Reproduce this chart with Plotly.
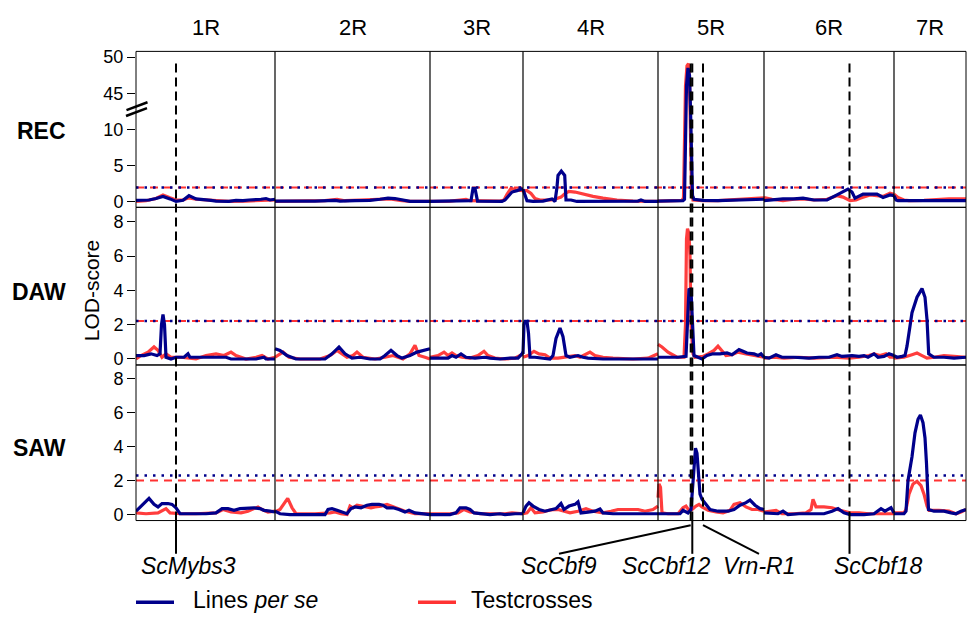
import plotly.graph_objects as go

W, H = 968, 620
FONT = "Liberation Sans, Arial, Helvetica, sans-serif"
BLUE = "#00008B"
RED = "#FF3333"

chromosomes = ["1R", "2R", "3R", "4R", "5R", "6R", "7R"]
chrom_length = [139, 155, 93, 135, 106, 130, 72]
traits = ["REC", "DAW", "SAW"]

# (cM within chromosome, LOD) per chromosome
rec_lines = {
    "1R": [(0,0.15),(13,0.2),(20,0.4),(27,0.7),(34,0.35),(40,0.0),(47,0.15),(53,0.8),(60,0.35),(67,0.3),(75,0.15),(80,0.05),(93,0.0),(100,0.15),(107,0.1),(113,0.2),(120,0.2),(125,0.3),(130,0.4),(134,0.2),(139,0.3)],
    "2R": [(0,0.05),(20,0.0),(40,0.05),(60,0.15),(65,0.05),(80,0.1),(95,0.15),(105,0.3),(113,0.45),(120,0.4),(128,0.15),(135,0.0),(155,0.0)],
    "3R": [(0,0.0),(20,0.0),(35,0.05),(41,0.1),(43,1.8),(45,1.8),(47.5,0.05),(60,0.0),(72,0.0),(75,0.2),(79,0.9),(82,1.3),(87,1.5),(93,1.8)],
    "4R": [(0,1.7),(2,0.8),(4,0.1),(10,0.0),(20,0.05),(29,0.35),(32,0.0),(34,2.0),(35,3.6),(38.3,4.2),(41.7,3.6),(43,0.2),(48,0.2),(54,0.0),(80,0.0),(100,0.0),(115,0.05),(118,0.2),(122,0.0),(135,0.0)],
    "5R": [(0,0.05),(10,0.05),(20,0.05),(25,0.1),(26.5,0.3),(27.5,20),(28.5,46),(30,48.5),(31.5,47.5),(32.5,30),(33.5,5),(34.5,0.8),(36,0.3),(45,0.15),(60,0.1),(75,0.15),(88,0.2),(95,0.25),(100,0.3),(106,0.3)],
    "6R": [(0,0.1),(10,0.25),(19,0.35),(30,0.35),(39,0.45),(50,0.2),(63,0.2),(73,0.9),(84,1.7),(88,1.3),(91,0.45),(96,0.8),(99,1.0),(106,1.0),(113,1.0),(119,0.55),(126,0.9),(130,0.8)],
    "7R": [(0,0.8),(2,0.2),(4,0.1),(15,0.1),(30,0.05),(45,0.1),(60,0.15),(72,0.1)],
}
rec_test = {
    "1R": [(0,0.0),(10,0.1),(20,0.4),(27,0.9),(34,0.5),(40,0.2),(47,0.2),(53,0.5),(60,0.3),(70,0.2),(80,0.1),(93,0.0),(110,0.05),(125,0.1),(139,0.2)],
    "2R": [(0,0.0),(25,0.05),(50,0.1),(62,0.3),(70,0.1),(85,0.2),(100,0.3),(115,0.35),(125,0.15),(135,0.0),(155,0.0)],
    "3R": [(0,0.0),(20,0.05),(30,0.2),(36,0.3),(40,0.1),(50,0.05),(70,0.05),(74,0.2),(77,1.0),(81,1.8),(86,1.6),(93,1.5)],
    "4R": [(0,1.5),(4,1.5),(8,1.1),(12,0.4),(17,0.2),(28,0.2),(34,0.4),(38,0.6),(42,1.1),(46,1.4),(52,1.3),(60,1.0),(70,0.7),(80,0.45),(94,0.2),(110,0.05),(135,0.0)],
    "5R": [(0,0.05),(15,0.1),(24,0.15),(25.5,0.5),(26.5,10),(27.5,46),(29,48.8),(30.5,49.1),(31.5,47),(32.5,20),(33.5,2),(35,0.2),(45,0.1),(60,0.1),(75,0.2),(90,0.3),(100,0.4),(106,0.5)],
    "6R": [(0,0.55),(8,0.3),(19,0.1),(30,0.3),(39,0.35),(50,0.2),(63,0.3),(73,0.8),(79,0.6),(86,0.1),(92,0.2),(96,0.45),(106,0.9),(113,0.8),(119,0.7),(126,1.15),(130,1.0)],
    "7R": [(0,1.0),(4,0.55),(10,0.2),(15,0.1),(30,0.15),(45,0.3),(55,0.35),(65,0.35),(72,0.35)],
}
daw_lines = {
    "1R": [(0,0.2),(8,0.2),(15,0.3),(21,0.2),(24,0.3),(25.5,2.0),(27,2.6),(28.5,2.0),(30,0.1),(35,0.0),(40,0.1),(48,0.1),(52,0.3),(54,0.1),(70,0.1),(90,0.1),(95,0.0),(110,0.0),(120,0.0),(128,0.1),(130,0.0),(139,0.0)],
    "2R": [(0,0.6),(5,0.5),(12,0.2),(21,0.0),(35,0.0),(50,0.0),(57,0.3),(64,0.7),(70,0.3),(77,0.05),(85,0.1),(95,0.0),(105,0.0),(110,0.2),(116,0.5),(122,0.2),(127,0.05),(135,0.2),(142,0.4),(150,0.55),(155,0.6)],
    "3R": [(0,0.05),(10,0.05),(18,0.05),(22,0.2),(26,0.1),(31,0.3),(36,0.1),(45,0.05),(55,0.1),(60,0.05),(70,0.0),(80,0.05),(88,0.05),(92,0.3),(93,0.4)],
    "4R": [(0,0.3),(1,2.0),(2,2.2),(4,2.2),(5.5,1.5),(7,0.1),(12,0.1),(20,0.05),(27,0.0),(30,0.2),(33,1.2),(37,1.8),(40,1.3),(43,0.2),(47,0.1),(55,0.2),(60,0.1),(65,0.05),(80,0.0),(100,0.0),(120,0.0),(135,0.0)],
    "5R": [(0,0.1),(10,0.1),(20,0.1),(28,0.15),(30,3.0),(31,4.1),(33,4.0),(34.5,2.0),(36,0.2),(40,0.1),(44,0.0),(49,0.2),(55,0.3),(62,0.3),(69,0.35),(74,0.25),(78,0.45),(81,0.55),(85,0.45),(89,0.35),(96,0.3),(100,0.2),(103,0.3),(106,0.1)],
    "6R": [(0,0.1),(5,0.05),(12,0.25),(18,0.1),(30,0.1),(45,0.05),(55,0.1),(65,0.1),(73,0.25),(78,0.15),(88,0.2),(95,0.15),(100,0.2),(104,0.1),(110,0.3),(114,0.1),(120,0.15),(125,0.3),(130,0.2)],
    "7R": [(0,0.2),(3,0.1),(8,0.15),(11,0.2),(13,0.75),(18,2.7),(23,3.6),(28,4.1),(31,3.6),(33,2.3),(34.7,0.3),(40,0.1),(50,0.1),(60,0.05),(72,0.1)],
}
daw_test = {
    "1R": [(0,0.0),(5,0.2),(12,0.4),(18,0.7),(22,0.5),(26,0.1),(30,0.3),(35,0.1),(45,0.1),(60,0.0),(70,0.2),(80,0.3),(88,0.2),(95,0.4),(100,0.2),(110,0.0),(120,0.1),(126,0.2),(132,0.0),(139,0.1)],
    "2R": [(0,0.1),(8,0.4),(14,0.1),(25,0.0),(45,0.0),(55,0.2),(62,0.5),(67,0.3),(72,0.1),(78,0.2),(82,0.4),(88,0.1),(100,0.0),(110,0.1),(118,0.2),(128,0.0),(135,0.3),(140,0.8),(144,0.2),(150,0.1),(155,0.0)],
    "3R": [(0,0.1),(8,0.2),(14,0.4),(18,0.2),(22,0.35),(26,0.2),(32,0.1),(40,0.05),(48,0.2),(54,0.45),(58,0.2),(65,0.05),(75,0.0),(85,0.05),(93,0.3)],
    "4R": [(0,0.1),(5,0.2),(11,0.45),(16,0.3),(22,0.25),(27,0.05),(35,0.05),(43,0.1),(52,0.2),(57,0.1),(62,0.25),(67,0.4),(72,0.2),(80,0.1),(90,0.05),(110,0.0),(125,0.05),(135,0.3)],
    "5R": [(0,0.85),(4,0.7),(10,0.4),(16,0.2),(19,0.1),(26,0.1),(27.5,2.0),(28.5,7.0),(29.5,7.6),(31,7.3),(32,6.0),(33,2.0),(35,0.3),(37,0.1),(45,0.15),(50,0.3),(56,0.5),(60,0.75),(64,0.5),(68,0.2),(74,0.25),(80,0.4),(88,0.3),(96,0.2),(106,0.1)],
    "6R": [(0,0.05),(10,0.1),(20,0.05),(35,0.1),(50,0.05),(70,0.1),(85,0.05),(95,0.1),(105,0.2),(110,0.3),(116,0.2),(122,0.3),(126,0.1),(130,0.1)],
    "7R": [(0,0.05),(10,0.1),(18,0.25),(23,0.35),(28,0.2),(33,0.05),(40,0.1),(50,0.2),(60,0.15),(72,0.1)],
}
saw_lines = {
    "1R": [(0,0.2),(7,0.6),(13,0.95),(18,0.6),(22,0.45),(26,0.65),(32,0.65),(36,0.6),(40,0.4),(44,0.05),(55,0.05),(70,0.05),(80,0.1),(86,0.35),(92,0.35),(98,0.25),(104,0.35),(112,0.4),(118,0.4),(124,0.35),(128,0.25),(134,0.2),(139,0.15)],
    "2R": [(0,0.2),(5,0.05),(15,0.0),(30,0.0),(50,0.0),(53,0.3),(57,0.35),(62,0.25),(68,0.1),(72,0.05),(76,0.35),(80,0.45),(86,0.4),(92,0.55),(97,0.6),(104,0.6),(108,0.55),(112,0.4),(118,0.4),(124,0.3),(130,0.15),(134,0.25),(140,0.1),(146,0.05),(155,0.0)],
    "3R": [(0,0.0),(20,0.0),(26,0.1),(30,0.4),(36,0.4),(40,0.3),(44,0.1),(50,0.05),(60,0.0),(70,0.05),(75,0.0),(85,0.05),(93,0.05)],
    "4R": [(0,0.1),(3,0.5),(6,0.7),(10,0.5),(16,0.3),(22,0.2),(27,0.27),(33,0.35),(38,0.65),(41,0.3),(46,0.5),(52,0.6),(55,0.75),(58,0.1),(65,0.15),(72,0.2),(77,0.33),(80,0.1),(90,0.05),(100,0.05),(110,0.05),(120,0.05),(135,0.05)],
    "5R": [(0,0.05),(10,0.05),(22,0.05),(25,0.25),(30,0.1),(33,0.3),(35.5,2.5),(37.5,3.9),(39,3.6),(40.5,2.5),(42,1.2),(44,0.9),(47,0.7),(52,0.3),(60,0.2),(70,0.2),(76,0.3),(82,0.55),(88,0.7),(92,0.85),(97,0.55),(102,0.35),(106,0.3)],
    "6R": [(0,0.1),(8,0.05),(14,0.05),(19,0.2),(24,0.0),(35,0.05),(50,0.05),(60,0.05),(68,0.2),(74,0.35),(80,0.1),(86,0.0),(100,0.0),(110,0.05),(117,0.35),(121,0.2),(124,0.3),(127,0.4),(130,0.1)],
    "7R": [(0,0.05),(10,0.05),(12,0.2),(14,2.0),(18,3.4),(21,4.8),(24,5.6),(26.4,5.85),(29,5.4),(31,4.5),(32.5,3.0),(34.5,0.3),(40,0.2),(50,0.2),(57,0.1),(62,0.05),(67,0.2),(72,0.3)],
}
saw_test = {
    "1R": [(0,0.1),(10,0.05),(22,0.1),(30,0.35),(34,0.1),(45,0.05),(60,0.05),(80,0.1),(87,0.3),(95,0.15),(105,0.1),(112,0.2),(118,0.35),(122,0.45),(126,0.3),(132,0.15),(139,0.2)],
    "2R": [(0,0.15),(5,0.3),(12.7,0.95),(17,0.4),(21,0.05),(40,0.05),(55,0.1),(60,0.15),(66,0.05),(72,0.0),(75,0.5),(78,0.4),(82,0.55),(90,0.45),(96,0.4),(100,0.45),(106,0.5),(112,0.6),(118,0.45),(124,0.3),(130,0.2),(140,0.05),(155,0.05)],
    "3R": [(0,0.05),(20,0.05),(28,0.1),(34,0.3),(40,0.15),(50,0.05),(65,0.05),(75,0.05),(82,0.1),(88,0.05),(93,0.05)],
    "4R": [(0,0.05),(4,0.1),(8,0.4),(12,0.1),(20,0.15),(27,0.27),(35,0.3),(40,0.2),(47,0.1),(55,0.2),(63,0.35),(70,0.2),(80,0.1),(88,0.2),(95,0.3),(105,0.3),(115,0.3),(122,0.2),(130,0.3),(135,0.5)],
    "5R": [(0,1.0),(1,1.8),(2.5,1.6),(4,0.1),(10,0.05),(20,0.05),(25,0.4),(28,0.5),(31,0.25),(34,0.3),(38,0.5),(41,0.6),(44,0.45),(50,0.25),(58,0.15),(65,0.1),(72,0.25),(76,0.6),(82,0.7),(88,0.45),(94,0.3),(100,0.3),(106,0.2)],
    "6R": [(0,0.15),(6,0.2),(12,0.25),(18,0.05),(30,0.05),(42,0.1),(47,0.3),(49,0.9),(52,0.45),(60,0.45),(68,0.4),(76,0.25),(86,0.1),(95,0.1),(105,0.05),(115,0.05),(125,0.05),(130,0.05)],
    "7R": [(0,0.1),(10,0.1),(12,0.3),(15,1.2),(19,1.8),(23,1.95),(27,1.7),(30,1.2),(33,0.5),(35,0.25),(45,0.25),(55,0.2),(62,0.05),(67,0.15),(72,0.3)],
}

# significance thresholds per trait
thr_lines = [1.92, 2.22, 2.30]
thr_test = [1.92, 2.22, 2.00]

# candidate genes
genes = ["ScMybs3", "ScCbf9", "ScCbf12", "Vrn-R1", "ScCbf18"]
gene_chrom = ["1R", "5R", "5R", "5R", "6R"]
gene_cm = [40, 32.7, 34.3, 45, 85.5]

# REC axis ticks (broken axis 10 | 45)
rec_ticks = [0, 5, 10, 45, 50]
saw_ticks = [0, 2, 4, 6, 8]


def brk(v):
    """Broken-axis mapping for REC panel: 0-10 linear, 45-50 linear."""
    if v <= 10:
        return v
    if v >= 45:
        return v - 30
    return 10 + (v - 10) * 5.0 / 35.0


starts = {}
acc = 0
for c, L in zip(chromosomes, chrom_length):
    starts[c] = acc
    acc += L
TOTAL = acc


def px(x):
    return x / W


def py(y):
    return 1 - y / H


def series_xy(d, transform=None):
    xs, ys = [], []
    for c in chromosomes:
        for cm, v in d[c]:
            xs.append(starts[c] + cm)
            ys.append(transform(v) if transform else v)
        xs.append(None)
        ys.append(None)
    return xs, ys


fig = go.Figure()
panel_data = [(rec_test, rec_lines, brk, "y"), (daw_test, daw_lines, None, "y2"),
              (saw_test, saw_lines, None, "y3")]
for test, lines, tf, ya in panel_data:
    x, y = series_xy(test, tf)
    fig.add_trace(go.Scatter(x=x, y=y, mode="lines", yaxis=ya, xaxis="x",
                             line=dict(color=RED, width=3.2), showlegend=False,
                             connectgaps=False, opacity=0.95))
    x, y = series_xy(lines, tf)
    fig.add_trace(go.Scatter(x=x, y=y, mode="lines", yaxis=ya, xaxis="x",
                             line=dict(color=BLUE, width=3.2), showlegend=False,
                             connectgaps=False))

# panel geometry in pixels
panel_top = [48, 206, 365.7]
panel_bot = [206, 365.7, 523.3]
plot_left, plot_right = 136, 966

axis_common = dict(showgrid=False, zeroline=False, showline=False, ticks="outside",
                   ticklen=8, tickwidth=1, tickcolor="black",
                   tickfont=dict(family=FONT, size=18, color="black"), fixedrange=True)

layout = dict(
    width=W, height=H, margin=dict(l=0, r=0, t=0, b=0),
    paper_bgcolor="white", plot_bgcolor="white", showlegend=False,
    xaxis=dict(domain=[px(plot_left), px(plot_right)], range=[0, TOTAL], visible=False,
               anchor="y3", fixedrange=True),
    yaxis=dict(domain=[py(panel_bot[0]), py(panel_top[0])], range=[-0.82, 20.8],
               tickvals=[brk(t) for t in rec_ticks], ticktext=[str(t) for t in rec_ticks],
               anchor="x", **axis_common),
    yaxis2=dict(domain=[py(panel_bot[1]), py(panel_top[1])], range=[-0.35, 8.84],
                tickvals=saw_ticks, anchor="x", **axis_common),
    yaxis3=dict(domain=[py(panel_bot[2]), py(panel_top[2])], range=[-0.35, 8.79],
                tickvals=saw_ticks, anchor="x", **axis_common),
)
fig.update_layout(**layout)

shapes = []
# threshold lines
for i, ya in enumerate(["y", "y2", "y3"]):
    shapes.append(dict(type="line", xref="x", yref=ya, x0=0, x1=TOTAL,
                       y0=thr_test[i], y1=thr_test[i], layer="below",
                       line=dict(color=RED, width=2, dash="8px,6px")))
    shapes.append(dict(type="line", xref="x", yref=ya, x0=0, x1=TOTAL,
                       y0=thr_lines[i], y1=thr_lines[i], layer="below",
                       line=dict(color=BLUE, width=2.5, dash="2.5px,6px")))
# panel frames
for t, b in zip(panel_top, panel_bot):
    shapes.append(dict(type="rect", xref="paper", yref="paper", x0=px(plot_left), x1=px(plot_right),
                       y0=py(b), y1=py(t), line=dict(color="black", width=1)))
# chromosome separators
for c in chromosomes[1:]:
    shapes.append(dict(type="line", xref="x", yref="paper", x0=starts[c], x1=starts[c],
                       y0=py(panel_bot[2]), y1=py(panel_top[0]), line=dict(color="black", width=1.2)))
# gene marker lines
gene_x = [starts[c] + cm for c, cm in zip(gene_chrom, gene_cm)]
for gx in gene_x:
    shapes.append(dict(type="line", xref="x", yref="paper", x0=gx, x1=gx,
                       y0=py(panel_bot[2]), y1=py(57),
                       line=dict(color="black", width=2, dash="9px,5px")))
# leaders below plot
label_dx = [12, -131.7, -26, 56, 28.5]
leader_y0, leader_y1 = 528, 557
for g, gx, dx in zip(genes, gene_x, label_dx):
    if g in ("ScCbf9", "Vrn-R1"):
        shapes.append(dict(type="line", xref="x", yref="paper", x0=gx, x1=gx + dx,
                           y0=py(leader_y0), y1=py(leader_y1), line=dict(color="black", width=2)))
    else:
        shapes.append(dict(type="line", xref="x", yref="paper", x0=gx, x1=gx,
                           y0=py(panel_bot[2]), y1=py(leader_y1), line=dict(color="black", width=2)))
# axis break mark on REC
shapes.append(dict(type="line", xref="paper", yref="paper", x0=px(126.5), x1=px(147.5),
                   y0=py(107.5), y1=py(99.5), line=dict(color="black", width=2.5)))
shapes.append(dict(type="line", xref="paper", yref="paper", x0=px(126), x1=px(147),
                   y0=py(113.5), y1=py(105.5), line=dict(color="black", width=2.5)))
# legend line samples
shapes.append(dict(type="line", xref="paper", yref="paper", x0=px(136), x1=px(174),
                   y0=py(606), y1=py(606), line=dict(color=BLUE, width=3.5)))
shapes.append(dict(type="line", xref="paper", yref="paper", x0=px(418), x1=px(456),
                   y0=py(606), y1=py(606), line=dict(color=RED, width=3.5)))

annotations = []
for c, L in zip(chromosomes, chrom_length):
    annotations.append(dict(text=c, xref="x", yref="paper", x=starts[c] + L / 2, y=py(24),
                            showarrow=False, xanchor="center", yanchor="middle",
                            font=dict(family=FONT, size=22, color="black")))
for t, yc in zip(traits, [129, 292, 450]):
    annotations.append(dict(text="<b>" + t + "</b>", xref="paper", yref="paper", x=px(68), y=py(yc),
                            showarrow=False, xanchor="right", yanchor="middle",
                            font=dict(family=FONT, size=23, color="black")))
annotations.append(dict(text="LOD-score", xref="paper", yref="paper", x=px(91), y=py(290),
                        textangle=-90, showarrow=False, xanchor="center", yanchor="middle",
                        font=dict(family=FONT, size=21, color="black")))
for g, gx, dx in zip(genes, gene_x, label_dx):
    annotations.append(dict(text="<i>" + g + "</i>", xref="x", yref="paper", x=gx + dx, y=py(569),
                            showarrow=False, xanchor="center", yanchor="middle",
                            font=dict(family=FONT, size=23, color="black")))
annotations.append(dict(text="Lines <i>per se</i>", xref="paper", yref="paper", x=px(191), y=py(604),
                        showarrow=False, xanchor="left", yanchor="middle",
                        font=dict(family=FONT, size=23, color="black")))
annotations.append(dict(text="Testcrosses", xref="paper", yref="paper", x=px(469), y=py(604),
                        showarrow=False, xanchor="left", yanchor="middle",
                        font=dict(family=FONT, size=23, color="black")))

fig.update_layout(shapes=shapes, annotations=annotations)
fig.write_html("out.html")
